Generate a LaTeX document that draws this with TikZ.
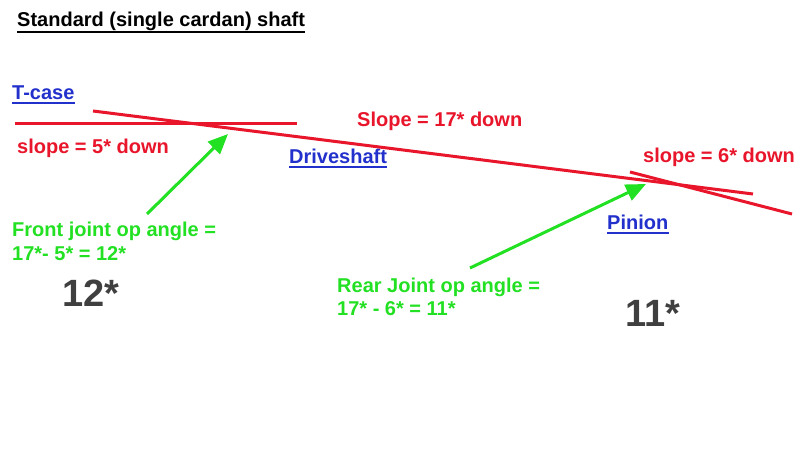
\documentclass[tikz,border=0pt]{standalone}
\usepackage{fontspec}
\setmainfont{Liberation Sans}
\usetikzlibrary{arrows.meta}
\definecolor{cred}{HTML}{E8152B}
\definecolor{cgreen}{HTML}{22E022}
\definecolor{cblue}{HTML}{2230CC}
\definecolor{cgray}{HTML}{3F3F3F}
\begin{document}
\begin{tikzpicture}[x=1bp,y=-1bp,
  lbl/.style={inner sep=0pt,anchor=base west,font=\fontsize{20bp}{24bp}\selectfont\bfseries},
  big/.style={inner sep=0pt,anchor=base west,font=\fontsize{38bp}{44bp}\selectfont\bfseries,text=cgray},
  shaft/.style={draw=cred,line width=3bp},
  pointer/.style={draw=cgreen,line width=3bp,-{Triangle[length=20bp,width=17bp]}},
  ul/.style={line width=1.4bp}]
\useasboundingbox (0,0) rectangle (798,471);
\fill[white] (0,0) rectangle (798,471);
% title and labels
\node[lbl] (title) at (17,27) {Standard (single cardan) shaft};
\draw[ul,black] ([yshift=-5bp]title.base west) -- ([yshift=-5bp]title.base east);
\node[lbl,text=cblue] (tcase) at (12,100) {T-case};
\draw[ul,cblue] ([yshift=-3bp]tcase.base west) -- ([yshift=-3bp]tcase.base east);
\node[lbl,text=cblue] (drive) at (289,164) {Driveshaft};
\draw[ul,cblue] ([yshift=-3bp]drive.base west) -- ([yshift=-3bp]drive.base east);
\node[lbl,text=cblue] (pinion) at (607,230) {Pinion};
\draw[ul,cblue] ([yshift=-3bp]pinion.base west) -- ([yshift=-3bp]pinion.base east);
\node[lbl,text=cred] (s5) at (17,154) {slope = 5* down};
\node[lbl,text=cred] (s17) at (357,127) {Slope = 17* down};
\node[lbl,text=cred] (s6) at (643,163) {slope = 6* down};
\node[lbl,text=cgreen] (front1) at (12,237) {Front joint op angle =};
\node[lbl,text=cgreen] (front2) at (12,261) {17*- 5* = 12*};
\node[lbl,text=cgreen] (rear1) at (337,293) {Rear Joint op angle =};
\node[lbl,text=cgreen] (rear2) at (337,316) {17* - 6* = 11*};
\node[big] (a12) at (62,307) {12*};
\node[big] (a11) at (625,327) {11*};
% shafts
\coordinate (tc1) at (15,124);
\coordinate (tc2) at (297,124);
\coordinate (ds1) at (93,111);
\coordinate (ds2) at (753,194);
\coordinate (pn1) at (630,172);
\coordinate (pn2) at (792,214);
\draw[shaft] (tc1) -- (tc2);
\draw[shaft] (ds1) -- (ds2);
\draw[shaft] (pn1) -- (pn2);
% pointers
\coordinate (fj) at (228,134);
\coordinate (ft) at (147,214);
\coordinate (rj) at (646,184);
\coordinate (rt) at (470,268);
\draw[pointer] (ft) -- (fj);
\draw[pointer] (rt) -- (rj);
\end{tikzpicture}
\end{document}
